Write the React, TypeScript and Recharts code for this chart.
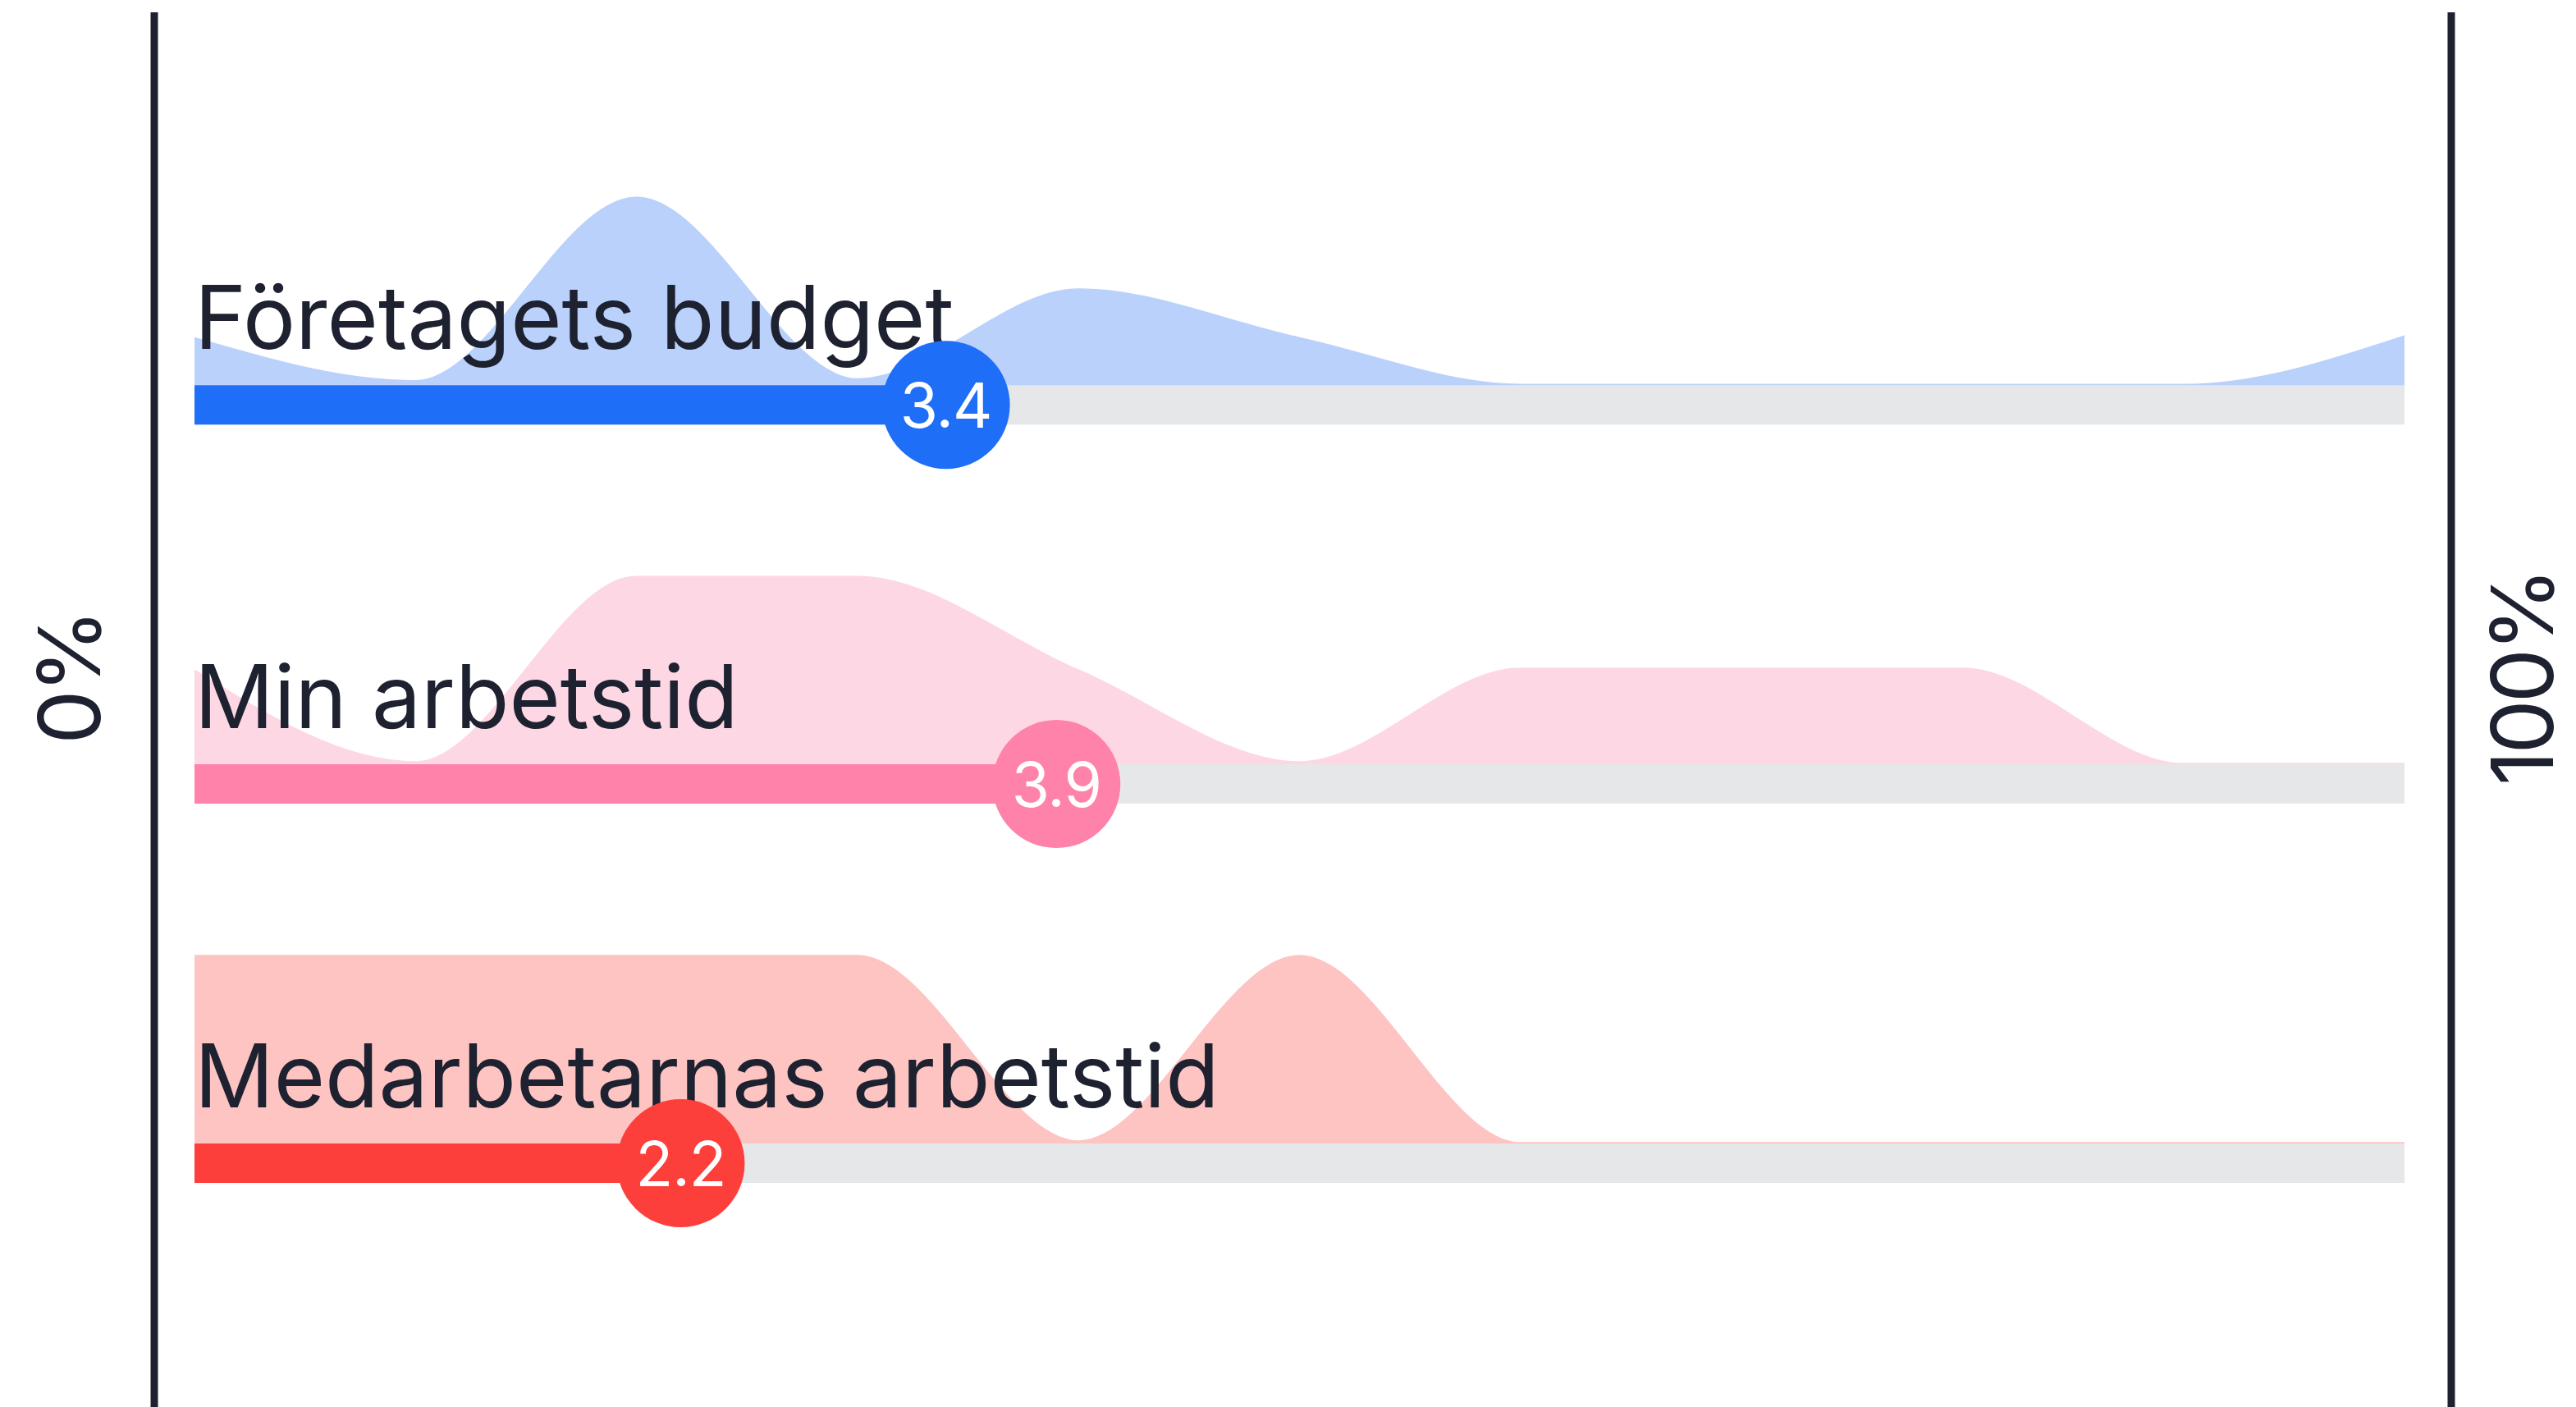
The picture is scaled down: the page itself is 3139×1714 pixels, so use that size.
import React from "react";
import { ComposedChart, Area, XAxis, YAxis, ReferenceArea, Scatter } from "recharts";

// score scale 0..10, one density sample per whole score
const scorePoints = [0, 1, 2, 3, 4, 5, 6, 7, 8, 9, 10];

const rowNames = ["Företagets budget", "Min arbetstid", "Medarbetarnas arbetstid"];
const rowScores = [3.4, 3.9, 2.2];

// relative density of answers (1 = tallest)
const budgetDensity = [0.25, 0.02, 1, 0.03, 0.51, 0.25, 0, 0, 0, 0, 0.26];
const myTimeDensity = [0.5, 0.01, 1, 1, 0.5, 0.01, 0.51, 0.51, 0.51, 0, 0];
const colleaguesDensity = [1, 1, 1, 1, 0.01, 1, 0, 0, 0, 0, 0];

const axisLabels = ["0%", "100%"];

const barColors = ["#1f6ef7", "#fe82a9", "#fd3f3c"];
const areaColors = ["#b9d1fb", "#fdd8e4", "#fdc4c2"];
const TRACK = "#e5e7e9";
const INK = "#1d2130";
const FONT = "Inter, 'Noto Sans', sans-serif";

// vertical geometry in y-axis units (one unit = one row)
const HALF_BAR = 0.052;
const AREA_H = 0.494;
const rowCenter = (i: number) => 2.5 - i;

const densities = [budgetDensity, myTimeDensity, colleaguesDensity];

const table = scorePoints.map((s, k) => {
  const row: any = { score: s };
  densities.forEach((d, i) => {
    const base = rowCenter(i) + HALF_BAR;
    row[`d${i}`] = [base, base + d[k] * AREA_H];
  });
  return row;
});

const knobs = rowScores.map((v, i) => ({ score: v, y: rowCenter(i), idx: i }));
const titles = rowNames.map((n, i) => ({ score: 0, y: rowCenter(i), name: n }));

const Knob = (props: any) => {
  const { cx, cy, payload } = props;
  return (
    <g>
      <circle cx={cx} cy={cy} r={78} fill={barColors[payload.idx]} />
      <text
        x={cx}
        y={cy}
        textAnchor="middle"
        dominantBaseline="central"
        fill="#ffffff"
        fontFamily={FONT}
        fontSize={75}
        letterSpacing={-1}
      >
        {rowScores[payload.idx].toFixed(1)}
      </text>
    </g>
  );
};

const Title = (props: any) => {
  const { cx, cy, payload } = props;
  return (
    <text x={cx} y={cy - 68} fill={INK} fontFamily={FONT} fontSize={107}>
      {payload.name}
    </text>
  );
};

// rotated side label, x is the baseline position
const pctLabel = (text: string, dx: number) => (p: any) => {
  const vb = p.viewBox;
  const x = vb.x + dx;
  const y = 826;
  return (
    <text
      x={x}
      y={y}
      transform={`rotate(-90 ${x} ${y})`}
      textAnchor="middle"
      fill={INK}
      fontFamily={FONT}
      fontSize={105}
      letterSpacing={-4}
    >
      {text}
    </text>
  );
};

export default function App() {
  return (
    <div style={{ position: "absolute", left: 0, top: 0, width: 3139, height: 1714, background: "#fff" }}>
      <ComposedChart width={3139} height={1714} data={table} margin={{ top: 15, right: 0, bottom: 0, left: 0 }}>
        <XAxis dataKey="score" type="number" domain={[0, 10]} hide padding={{ left: 49, right: 57 }} />
        <YAxis
          yAxisId="l"
          type="number"
          domain={[0, 3.1]}
          width={188}
          tick={false}
          tickLine={false}
          axisLine={{ stroke: INK, strokeWidth: 9 }}
          padding={{ top: 201, bottom: 66 }}
          label={{ value: axisLabels[0], content: pctLabel(axisLabels[0], 122) }}
        />
        <YAxis
          yAxisId="r"
          orientation="right"
          type="number"
          domain={[0, 3.1]}
          width={152}
          tick={false}
          tickLine={false}
          axisLine={{ stroke: INK, strokeWidth: 9 }}
          padding={{ top: 201, bottom: 66 }}
          label={{ value: axisLabels[1], content: pctLabel(axisLabels[1], 124) }}
        />
        {densities.map((_, i) => (
          <Area
            key={`a${i}`}
            yAxisId="l"
            type="monotone"
            dataKey={`d${i}`}
            stroke={areaColors[i]}
            strokeWidth={3}
            fill={areaColors[i]}
            fillOpacity={1}
            isAnimationActive={false}
            activeDot={false}
            dot={false}
          />
        ))}
        {rowScores.map((v, i) => (
          <ReferenceArea
            key={`t${i}`}
            yAxisId="l"
            x1={0}
            x2={10}
            y1={rowCenter(i) - HALF_BAR}
            y2={rowCenter(i) + HALF_BAR}
            fill={TRACK}
            fillOpacity={1}
            stroke="none"
          />
        ))}
        {rowScores.map((v, i) => (
          <ReferenceArea
            key={`b${i}`}
            yAxisId="l"
            x1={0}
            x2={v}
            y1={rowCenter(i) - HALF_BAR}
            y2={rowCenter(i) + HALF_BAR}
            fill={barColors[i]}
            fillOpacity={1}
            stroke="none"
          />
        ))}
        <Scatter yAxisId="l" data={titles} dataKey="y" shape={<Title />} isAnimationActive={false} />
        <Scatter yAxisId="l" data={knobs} dataKey="y" shape={<Knob />} isAnimationActive={false} />
      </ComposedChart>
    </div>
  );
}
